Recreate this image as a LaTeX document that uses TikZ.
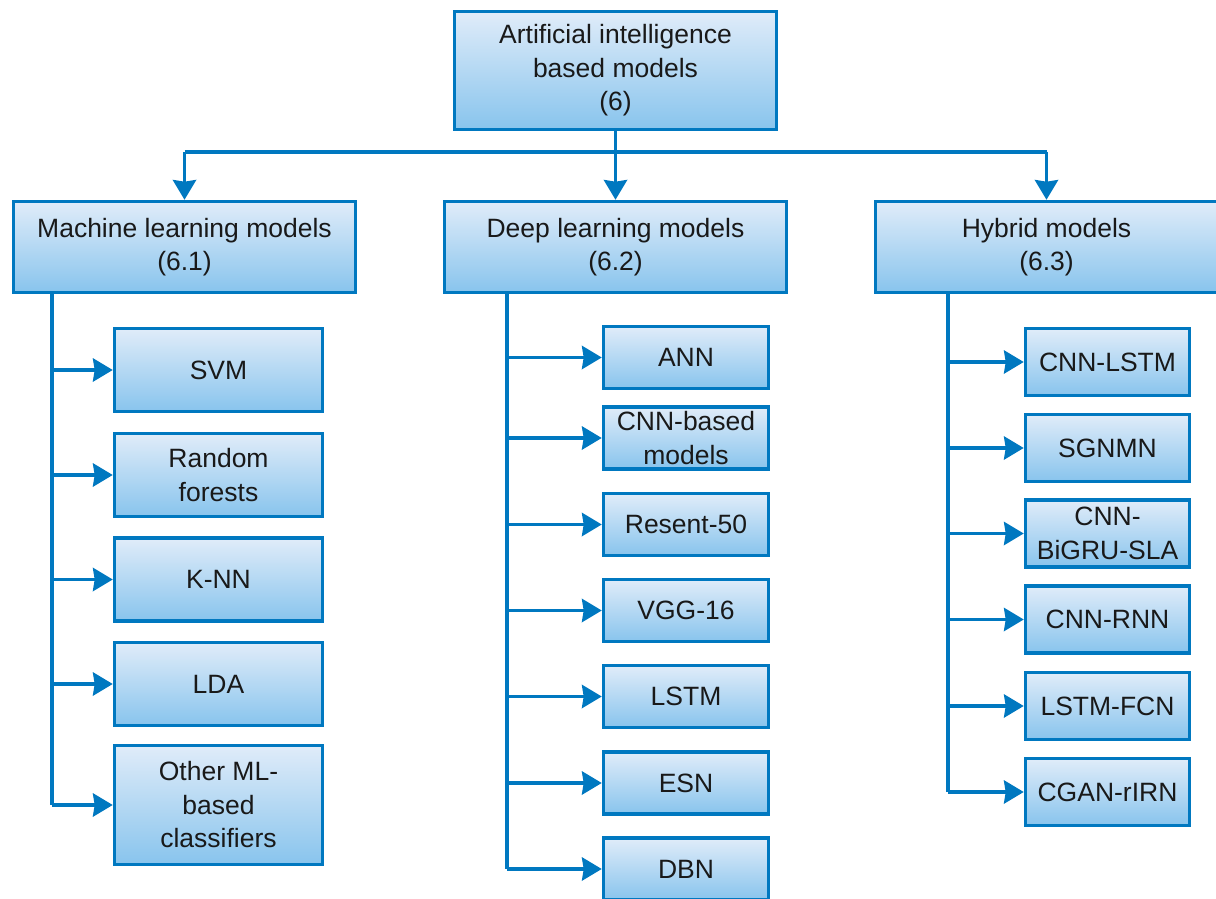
\documentclass[tikz,border=0pt]{standalone}
\usepackage{fontspec}
\setmainfont{Liberation Sans}
\usetikzlibrary{arrows.meta}
\definecolor{edgeblue}{RGB}{0,120,192}
\definecolor{filltop}{RGB}{224,236,249}
\definecolor{fillbot}{RGB}{136,196,237}
\tikzset{
  box/.style={draw=edgeblue, line width=3.6pt, top color=filltop, bottom color=fillbot,
    align=center, inner sep=0pt, text=black!90,
    font=\fontsize{26.5}{33.5}\selectfont},
  bigbox/.style={box, minimum width=342pt, minimum height=91pt},
  mlbox/.style={box, minimum width=208pt, minimum height=83pt},
  dlbox/.style={box, minimum width=165pt, minimum height=62pt},
  hybox/.style={box, minimum width=164pt, minimum height=67pt},
  link/.style={draw=edgeblue, line width=3.3pt,
    -{Stealth[length=20pt,width=24pt,inset=2pt,line width=0pt]}},
  trunk/.style={draw=edgeblue, line width=3.3pt},
}
\begin{document}
\begin{tikzpicture}[x=1pt,y=-1pt]
\path[use as bounding box] (0,0) rectangle (1216,898);
\clip (0,0) rectangle (1216,898);

% root and first level
\node[box, minimum width=322pt, minimum height=118pt] (ai) at (615.5,70.5)
  {Artificial intelligence\\based models\\(6)};
\node[bigbox] (ml) at (184.5,247) {Machine learning models\\(6.1)};
\node[bigbox] (dl) at (615.5,247) {Deep learning models\\(6.2)};
\node[bigbox] (hy) at (1046.5,247) {Hybrid models\\(6.3)};

\coordinate (split) at (615.5,152);
\draw[trunk] (ai.south) -- (split);
\draw[trunk] (ml.north |- split) -- (hy.north |- split);
\draw[link] (ml.north |- split) -- (ml.north);
\draw[link] (split) -- (dl.north);
\draw[link] (hy.north |- split) -- (hy.north);

% machine learning branch
\node[mlbox] (svm) at (218.5,370) {SVM};
\node[mlbox] (rf)  at (218.5,475) {Random\\forests};
\node[mlbox] (knn) at (218.5,579.5) {K-NN};
\node[mlbox] (lda) at (218.5,684) {LDA};
\node[mlbox, minimum height=119pt] (oml) at (218.5,805) {Other ML-\\based\\classifiers};
\coordinate (mlx) at (52,247);
\draw[trunk] (mlx |- ml.south) -- (mlx |- oml.west);
\foreach \n in {svm,rf,knn,lda}
  \draw[link] (mlx |- \n.west) -- (\n.west);
\draw[link] (mlx |- oml.west) -- (oml.west);

% deep learning branch
\node[dlbox] (ann) at (686,357.5) {ANN};
\node[dlbox] (cnn) at (686,438) {CNN-based\\models};
\node[dlbox] (res) at (686,524.5) {Resent-50};
\node[dlbox] (vgg) at (686,610.5) {VGG-16};
\node[dlbox] (lstm) at (686,696.5) {LSTM};
\node[dlbox] (esn) at (686,783) {ESN};
\node[dlbox] (dbn) at (686,869) {DBN};
\coordinate (dlx) at (507,247);
\draw[trunk] (dlx |- dl.south) -- (dlx |- dbn.west);
\foreach \n in {ann,cnn,res,vgg,lstm,esn,dbn}
  \draw[link] (dlx |- \n.west) -- (\n.west);

% hybrid branch
\node[hybox] (h1) at (1107.5,362) {CNN-LSTM};
\node[hybox] (h2) at (1107.5,448) {SGNMN};
\node[hybox] (h3) at (1107.5,533.5) {CNN-\\BiGRU-SLA};
\node[hybox] (h4) at (1107.5,619.5) {CNN-RNN};
\node[hybox] (h5) at (1107.5,706) {LSTM-FCN};
\node[hybox] (h6) at (1107.5,792) {CGAN-rIRN};
\coordinate (hyx) at (948,247);
\draw[trunk] (hyx |- hy.south) -- (hyx |- h6.west);
\foreach \n in {h1,h2,h3,h4,h5,h6}
  \draw[link] (hyx |- \n.west) -- (\n.west);
\end{tikzpicture}
\end{document}
